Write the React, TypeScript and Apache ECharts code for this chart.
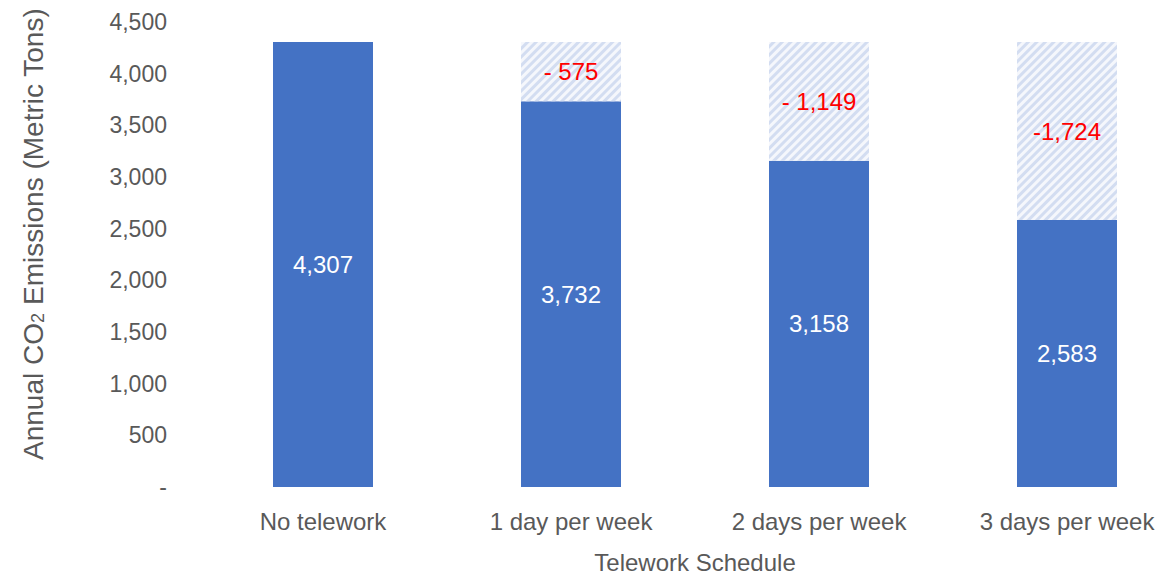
import React, { useEffect, useRef } from "react";
import * as echarts from "echarts";

const categories = ["No telework", "1 day per week", "2 days per week", "3 days per week"];
const emissions = [4307, 3732, 3158, 2583];
const reductions = [0, 575, 1149, 1724];
const emissionLabels = ["4,307", "3,732", "3,158", "2,583"];
const reductionLabels = ["", "- 575", "- 1,149", "-1,724"];
const yTicks = [0, 500, 1000, 1500, 2000, 2500, 3000, 3500, 4000, 4500];

const FONT = "'Liberation Sans', Arial, sans-serif";
const GREY = "#595959";

export default function App() {
  const ref = useRef<HTMLDivElement>(null);
  useEffect(() => {
    if (!ref.current) return;
    const chart = echarts.init(ref.current, undefined, { renderer: "svg" });
    chart.setOption({
      animation: false,
      textStyle: { fontFamily: FONT },
      grid: {
        left: 191,
        top: 14,
        width: 992,
        height: 465,
        containLabel: false,
        outerBoundsMode: "none",
      },
      graphic: [
        {
          type: "text",
          x: 23,
          y: 226,
          rotation: Math.PI / 2,
          style: {
            text: "{a|Annual CO}{s|2}{a| Emissions (Metric Tons)}",
            align: "center",
            verticalAlign: "middle",
            fill: GREY,
            rich: {
              a: { fontSize: 28, fill: GREY, fontFamily: FONT, lineHeight: 32, verticalAlign: "bottom" },
              s: { fontSize: 18, fill: GREY, fontFamily: FONT, lineHeight: 26, verticalAlign: "bottom" },
            },
          },
        },
      ],
      xAxis: {
        type: "category",
        data: categories,
        axisLine: { show: false },
        axisTick: { show: false },
        axisLabel: { color: GREY, fontSize: 24, fontFamily: FONT, margin: 22 },
        name: "Telework Schedule",
        nameLocation: "middle",
        nameGap: 63,
        nameTextStyle: { color: GREY, fontSize: 24, fontFamily: FONT },
      },
      yAxis: {
        type: "value",
        min: yTicks[0],
        max: yTicks[yTicks.length - 1],
        interval: 500,
        axisLine: { show: false },
        axisTick: { show: false },
        splitLine: { show: false },
        axisLabel: {
          color: GREY,
          fontSize: 23,
          fontFamily: FONT,
          margin: 32,
          formatter: (v: number) => (v === 0 ? "-" : v.toLocaleString("en-US")),
        },
      },
      series: [
        {
          type: "bar",
          stack: "total",
          data: emissions,
          barWidth: 100,
          itemStyle: { color: "#4472C4" },
          label: {
            show: true,
            position: "inside",
            color: "#ffffff",
            fontSize: 24,
            fontFamily: FONT,
            formatter: (p: any) => emissionLabels[p.dataIndex],
          },
        },
        {
          type: "bar",
          stack: "total",
          data: reductions,
          barWidth: 100,
          itemStyle: {
            color: "#f5f7fc",
            decal: {
              symbol: "rect",
              symbolSize: 1,
              color: "#d3ddf1",
              dashArrayX: [1, 0],
              dashArrayY: [3, 3],
              rotation: -Math.PI / 4,
            },
          },
          label: {
            show: true,
            position: "inside",
            color: "#FF0000",
            fontSize: 24,
            fontFamily: FONT,
            formatter: (p: any) => reductionLabels[p.dataIndex],
          },
        },
      ],
    });
    return () => chart.dispose();
  }, []);
  return (
    <div
      style={{
        position: "fixed",
        left: 0,
        top: 0,
        width: 1159,
        height: 577,
        overflow: "hidden",
        background: "#ffffff",
      }}
    >
      <div ref={ref} style={{ position: "absolute", left: 8, top: 8, width: 1220, height: 569 }} />
    </div>
  );
}
